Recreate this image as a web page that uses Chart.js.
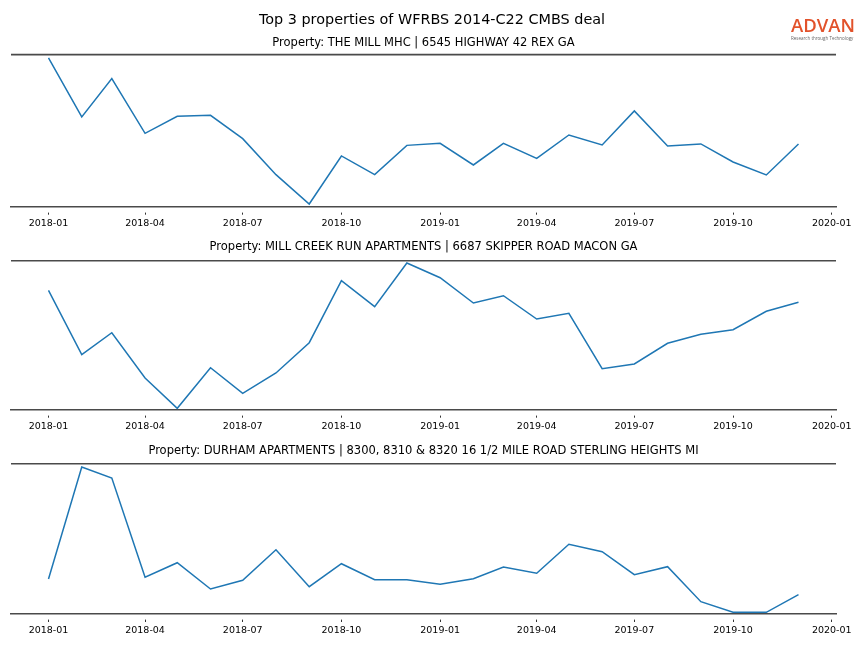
<!DOCTYPE html>
<html>
<head>
<meta charset="utf-8">
<script src="https://cdn.jsdelivr.net/npm/chart.js@4/dist/chart.umd.min.js"></script>
<style>
  html, body { margin:0; padding:0; background:#fff; }
  #wrap { position:relative; width:864px; height:648px; overflow:hidden; }
  canvas { position:absolute; left:0; }
  #main { position:absolute; left:0; top:11px; width:864px; text-align:center; font-family:'DejaVu Sans', sans-serif; font-size:14.4px; line-height:17px; color:#000; white-space:nowrap; }
  #logo { position:absolute; left:791px; top:14px; width:72px; font-family:"Open Sans", "Liberation Sans", sans-serif; }
  #logo .big { color:#e2522b; font-size:18.5px; font-weight:600; line-height:21px; letter-spacing:0px; }
  #logo .small { color:#666; font-size:4.5px; line-height:6px; white-space:nowrap; }
</style>
</head>
<body>
<div id="wrap">
  <canvas id="c1" width="864" height="234" style="top:0px"></canvas>
  <canvas id="c2" width="864" height="204" style="top:234px"></canvas>
  <canvas id="c3" width="864" height="210" style="top:438px"></canvas>
  <div id="main"></div>
  <div id="logo"><div class="big">ADVAN</div><div class="small">Research through Technology</div></div>
</div>
<script>
// ---- data ----
const months = ['2018-01','2018-02','2018-03','2018-04','2018-05','2018-06','2018-07','2018-08','2018-09','2018-10','2018-11','2018-12',
                '2019-01','2019-02','2019-03','2019-04','2019-05','2019-06','2019-07','2019-08','2019-09','2019-10','2019-11','2019-12'];
const tickLabels = ['2018-01','2018-04','2018-07','2018-10','2019-01','2019-04','2019-07','2019-10','2020-01'];

const mainTitle = 'Top 3 properties of WFRBS 2014-C22 CMBS deal';
const titles = [
  'Property: THE MILL MHC | 6545 HIGHWAY 42 REX GA',
  'Property: MILL CREEK RUN APARTMENTS | 6687 SKIPPER ROAD MACON GA',
  'Property: DURHAM APARTMENTS | 8300, 8310 & 8320 16 1/2 MILE ROAD STERLING HEIGHTS MI'
];
const millMhc   = [148.7, 89.7, 128, 73.3, 90.3, 91.3, 68, 32, 2.7, 50.7, 32, 61.3, 63.3, 41.7, 63.3, 48.3, 71.7, 61.7, 95.7, 60.7, 62.7, 44.7, 31.7, 62.7];
const millCreek = [119.4, 55, 77, 31.7, 1.4, 42, 16.4, 36.7, 67, 129, 103, 146.7, 132, 106.7, 114, 90.7, 96.4, 41, 45.7, 66.4, 75.4, 80, 98.4, 107.4];
const durham    = [35, 147, 136, 36.7, 51.3, 25, 33.7, 64.3, 27.3, 50.3, 34.3, 34.3, 29.7, 35.3, 47, 40.7, 69.7, 62.3, 39.3, 47.3, 12.3, 1.7, 1.7, 19.3];
const yRanges = [[0, 152], [0, 149], [0, 150.3]];

document.getElementById('main').textContent = mainTitle;

// ---- helpers ----
const DAY = 86400000;
const base = Date.UTC(2018, 0, 1);
function dayOf(label) {
  const [y, m] = label.split('-').map(Number);
  return (Date.UTC(y, m - 1, 1) - base) / DAY;
}
const monthDays = months.map(dayOf);
const tickDays = tickLabels.map(dayOf);
const span = monthDays[monthDays.length - 1] - monthDays[0];
const xMin = monthDays[0] - 0.05 * span;
const xMax = monthDays[monthDays.length - 1] + 0.05 * span;

const FONT = "'DejaVu Sans', sans-serif";
const SPINE = '#4a4a4a';

const topSpine = {
  id: 'topSpine',
  afterDraw(chart) {
    const a = chart.chartArea, ctx = chart.ctx;
    ctx.save();
    ctx.strokeStyle = SPINE;
    ctx.lineWidth = 1.6;
    ctx.beginPath();
    ctx.moveTo(a.left, a.top);
    ctx.lineTo(a.right, a.top);
    ctx.stroke();
    ctx.restore();
  }
};

function makeChart(id, values, yr, axisHeight, titleOpts) {
  const ctx = document.getElementById(id);
  return new Chart(ctx, {
    type: 'line',
    data: {
      datasets: [{
        data: values.map((v, i) => ({ x: monthDays[i], y: v })),
        borderColor: '#1f77b4',
        borderWidth: 1.5,
        pointRadius: 0,
        tension: 0,
        fill: false
      }]
    },
    options: {
      responsive: false,
      animation: false,
      devicePixelRatio: 1,
      layout: { padding: { left: 11, right: 28, top: 0, bottom: 0 } },
      plugins: {
        legend: { display: false },
        tooltip: { enabled: false },
        title: titleOpts
      },
      scales: {
        x: {
          type: 'linear',
          min: xMin, max: xMax,
          afterBuildTicks(scale) { scale.ticks = tickDays.map(v => ({ value: v })); },
          afterFit(scale) { scale.height = axisHeight; },
          ticks: {
            autoSkip: false,
            maxRotation: 0,
            padding: 3,
            color: '#000',
            font: { family: FONT, size: 9.5 },
            callback: (v) => tickLabels[tickDays.indexOf(v)]
          },
          grid: {
            display: true,
            drawOnChartArea: false,
            drawTicks: true,
            tickLength: 8,
            tickColor: '#333',
            tickWidth: 1,
            tickBorderDash: [0, 5, 3, 0]
          },
          border: { display: true, color: SPINE, width: 1.6 }
        },
        y: { display: false, min: yr[0], max: yr[1] }
      }
    },
    plugins: [topSpine]
  });
}

makeChart('c1', millMhc, yRanges[0], 234 - 206.7,
  { display: true, text: titles[0], color: '#000', font: { family: FONT, size: 11.5, weight: 'normal' }, padding: { top: 36.5, bottom: 4.3 } });

makeChart('c2', millCreek, yRanges[1], 204 - 175.7,
  { display: true, text: titles[1], color: '#000', font: { family: FONT, size: 11.5, weight: 'normal' }, padding: { top: 6.1, bottom: 6.8 } });

makeChart('c3', durham, yRanges[2], 210 - 176,
  { display: true, text: titles[2], color: '#000', font: { family: FONT, size: 11.5, weight: 'normal' }, padding: { top: 6.1, bottom: 5.8 } });
</script>
</body>
</html>
